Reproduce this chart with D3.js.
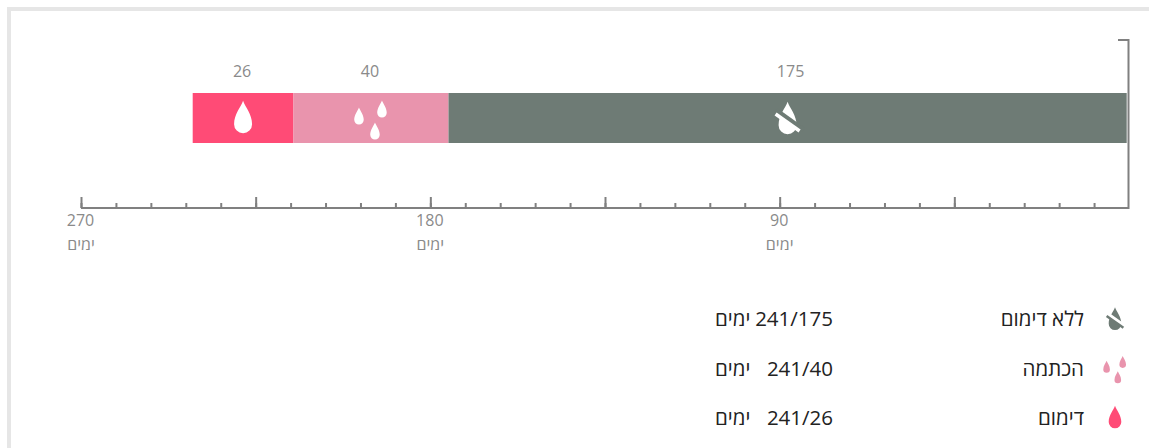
<!DOCTYPE html>
<html lang="he">
<head>
  <meta charset="utf-8">
  <title></title>
  <script src="https://d3js.org/d3.v7.min.js"></script>
</head>
<style>
body { margin: 0; background: white; }
svg { display: block; font-family: "Open Sans", sans-serif; }
.frame { fill: #e6e6e6; }
.axis-line { fill: none; stroke: #808080; stroke-width: 2; }
.tick line { stroke: #808080; stroke-width: 2; }
.unit-label { font-size: 16px; fill: #8a8a8a; }
.value-label { font-size: 16px; fill: #8a8a8a; text-anchor: middle; }
.legend-text { font-size: 20.5px; fill: #222; }
</style>
<body>
  <div class="chart"></div>

  <script type="text/javascript">
  var categories = ["דימום", "הכתמה", "ללא דימום"];
  var iconTypes = ["drop", "drops", "nodrop"];
  var days = [26, 40, 175];
  var colors = ["#ff4b76", "#e994ad", "#6e7b75"];
  var totalDays = 241;
  var unitLabel = "ימים";
  // the tick at 0 is covered by the right bracket
  var minorTicks = d3.range(270, 0, -9);
  var majorTicks = d3.range(270, 0, -45);
  var labelledTicks = [270, 180, 90];

  var width = 1149, height = 448;
  var axisY = 208, barTop = 93, barHeight = 50;
  var labelNudge = [-1, -1, 3];

  var svg = d3.select(".chart").append("svg")
    .attr("width", width)
    .attr("height", height);

  // frame, only top and left are visible in the crop
  svg.append("rect").attr("class", "frame").attr("x", 7).attr("y", 7).attr("width", width - 7).attr("height", 4);
  svg.append("rect").attr("class", "frame").attr("x", 7).attr("y", 7).attr("width", 4).attr("height", height - 7);

  var x = d3.scaleLinear().domain([270, 0]).range([81, 1129]);
  var barX = d3.scaleLinear().domain([totalDays, 0]).range([192.7, 1126.7]);

  // right bracket and baseline
  svg.append("path")
    .attr("class", "axis-line")
    .attr("d", d3.line()([[x(270), axisY], [1128.5, axisY], [1128.5, 40], [1118, 40]]));

  var minorAxis = d3.axisBottom(x)
    .tickValues(minorTicks)
    .tickSizeInner(-5)
    .tickSizeOuter(0)
    .tickFormat("");
  svg.append("g")
    .attr("transform", "translate(0," + axisY + ")")
    .call(minorAxis)
    .call(function(g) { g.select(".domain").remove(); });

  var majorAxis = d3.axisBottom(x)
    .tickValues(majorTicks)
    .tickSizeInner(-11)
    .tickSizeOuter(0)
    .tickPadding(7)
    .tickFormat(function(d) { return labelledTicks.indexOf(d) >= 0 ? d : ""; });
  var majorG = svg.append("g")
    .attr("transform", "translate(0," + axisY + ")")
    .call(majorAxis)
    .call(function(g) { g.select(".domain").remove(); });
  majorG.selectAll(".tick text")
    .attr("x", -1)
    .style("font-family", "'Open Sans', sans-serif")
    .style("font-size", "16px")
    .style("fill", "#8a8a8a");

  svg.selectAll(".unit-label")
    .data(labelledTicks)
    .enter()
    .append("text")
    .attr("class", "unit-label")
    .attr("x", function(d) { return x(d); })
    .attr("y", 250)
    .attr("text-anchor", "middle")
    .text(unitLabel);

  // stacked bar
  var segments = [];
  var sum = 0;
  days.forEach(function(d, i) {
    segments.push({name: categories[i], icon: iconTypes[i], value: d, color: colors[i], start: sum, end: sum + d, nudge: labelNudge[i]});
    sum += d;
  });
  var remaining = function(v) { return totalDays - v; };
  var midX = function(d) { return (barX(remaining(d.start)) + barX(remaining(d.end))) / 2; };

  svg.selectAll(".segment")
    .data(segments)
    .enter()
    .append("rect")
    .attr("class", "segment")
    .attr("x", function(d) { return barX(remaining(d.start)); })
    .attr("y", barTop)
    .attr("width", function(d) { return barX(remaining(d.end)) - barX(remaining(d.start)); })
    .attr("height", barHeight)
    .attr("fill", function(d) { return d.color; });

  svg.selectAll(".value-label")
    .data(segments)
    .enter()
    .append("text")
    .attr("class", "value-label")
    .attr("x", function(d) { return midX(d) + d.nudge; })
    .attr("y", 77)
    .text(function(d) { return d.value; });

  // unit drop: tip at top, 1 wide and 1.8 tall, centred on 0,0
  var dropPath = "M0,-0.9 C0.12,-0.55 0.5,-0.15 0.5,0.4 A0.5,0.5 0 0 1 -0.5,0.4 C-0.5,-0.15 -0.12,-0.55 0,-0.9 Z";

  var drawDrop = function(g, cx, cy, w, fill) {
    g.append("path")
      .attr("d", dropPath)
      .attr("transform", "translate(" + cx + "," + cy + ") scale(" + w + ")")
      .attr("fill", fill);
  };

  var drawIcon = function(g, type, s, fill, bg) {
    if (type === "drop") {
      drawDrop(g, 0, 0, 18 * s, fill);
    } else if (type === "drops") {
      drawDrop(g, -12 * s, -1 * s, 9.5 * s, fill);
      drawDrop(g, 11 * s, -8 * s, 9.5 * s, fill);
      drawDrop(g, 4 * s, 14 * s, 9.5 * s, fill);
    } else {
      drawDrop(g, 0, 1 * s, 18 * s, fill);
      // gap sits above the slash only, the lower part of the drop touches it
      g.append("line").attr("x1", -12 * s).attr("y1", -7 * s).attr("x2", 16 * s).attr("y2", 13 * s)
        .attr("stroke", bg).attr("stroke-width", 5 * s);
      g.append("line").attr("x1", -12 * s).attr("y1", -3 * s).attr("x2", 12 * s).attr("y2", 14 * s)
        .attr("stroke", fill).attr("stroke-width", 3.5 * s);
    }
  };

  segments.forEach(function(d) {
    var g = svg.append("g")
      .attr("transform", "translate(" + midX(d) + "," + (barTop + barHeight / 2 - 1) + ")");
    drawIcon(g, d.icon, 1, "white", d.color);
  });

  // legend, listed bottom to top
  var legendY = d3.scalePoint().domain(categories).range([425, 326]);

  segments.forEach(function(d) {
    var y = legendY(d.name);
    var g = svg.append("g").attr("transform", "translate(1115," + (y - 8) + ")");
    drawIcon(g, d.icon, 0.7, d.color, "white");
    svg.append("text").attr("class", "legend-text").attr("x", 1084).attr("y", y).attr("text-anchor", "end").text(d.name);
    svg.append("text").attr("class", "legend-text").attr("x", 833).attr("y", y).attr("text-anchor", "end").text(totalDays + "/" + d.value);
    svg.append("text").attr("class", "legend-text").attr("x", 715).attr("y", y).attr("text-anchor", "start").text(unitLabel);
  });
  </script>
</body>
</html>
